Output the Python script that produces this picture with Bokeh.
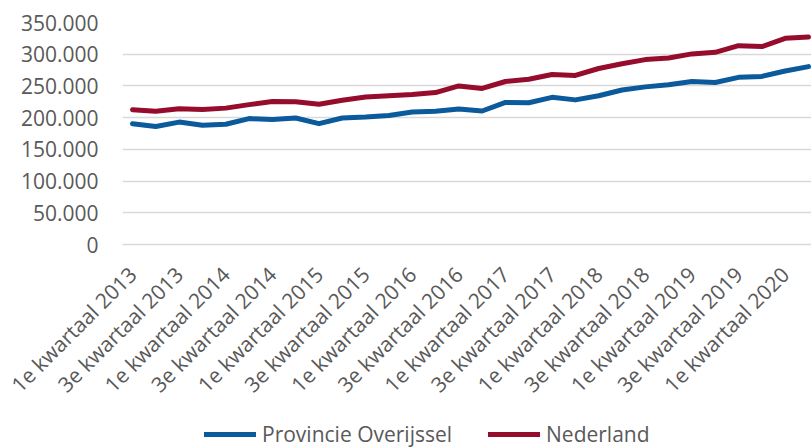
import math
from bokeh.plotting import figure
from bokeh.layouts import column
from bokeh.models import Range1d, FixedTicker, Legend, LegendItem
from bokeh.embed import file_html
from bokeh.resources import INLINE

quarters = [
    "1e kwartaal 2013", "2e kwartaal 2013", "3e kwartaal 2013", "4e kwartaal 2013",
    "1e kwartaal 2014", "2e kwartaal 2014", "3e kwartaal 2014", "4e kwartaal 2014",
    "1e kwartaal 2015", "2e kwartaal 2015", "3e kwartaal 2015", "4e kwartaal 2015",
    "1e kwartaal 2016", "2e kwartaal 2016", "3e kwartaal 2016", "4e kwartaal 2016",
    "1e kwartaal 2017", "2e kwartaal 2017", "3e kwartaal 2017", "4e kwartaal 2017",
    "1e kwartaal 2018", "2e kwartaal 2018", "3e kwartaal 2018", "4e kwartaal 2018",
    "1e kwartaal 2019", "2e kwartaal 2019", "3e kwartaal 2019", "4e kwartaal 2019",
    "1e kwartaal 2020", "2e kwartaal 2020",
]
overijssel = [190500, 186000, 193000, 188000, 189500, 198500, 197000, 199500,
              190500, 199500, 201000, 203500, 209000, 210000, 213500, 210500,
              224000, 223500, 232000, 228000, 234500, 243500, 248500, 252000,
              257000, 255500, 263500, 265000, 273500, 280500]
nederland = [212500, 210000, 214000, 213000, 215000, 220500, 225500, 225000,
             221000, 227500, 232500, 234500, 236500, 239500, 250000, 246000,
             257000, 260500, 268000, 266500, 277500, 285000, 291500, 294000,
             300500, 303000, 313500, 312000, 325000, 327000]
series_names = ["Provincie Overijssel", "Nederland"]
y_ticks = [0, 50000, 100000, 150000, 200000, 250000, 300000, 350000]
y_labels = ["0", "50.000", "100.000", "150.000", "200.000", "250.000", "300.000", "350.000"]

FONT = "Open Sans"
TXT = "#595959"
GRID = "#d9d9d9"
BLUE = "#0A5A9C"
RED = "#960C2C"

xs = list(range(len(quarters)))

p = figure(width=811, height=410, output_backend="svg", toolbar_location=None,
           x_range=Range1d(-0.43, 29.13), y_range=Range1d(0, 350000),
           min_border_left=122, min_border_right=0, min_border_top=22,
           min_border_bottom=166)
p.outline_line_color = None

p.line(xs, overijssel, line_color=BLUE, line_width=5,
       line_cap="round", line_join="round")
p.line(xs, nederland, line_color=RED, line_width=5,
       line_cap="round", line_join="round")

# y axis
p.yaxis.ticker = FixedTicker(ticks=y_ticks)
p.yaxis.major_label_overrides = {t: l for t, l in zip(y_ticks, y_labels)}
p.yaxis.axis_line_color = None
p.yaxis.major_tick_line_color = None
p.yaxis.minor_tick_line_color = None
p.yaxis.major_tick_out = 0
p.yaxis.major_tick_in = 0
p.yaxis.major_label_standoff = 24
p.yaxis.major_label_text_font = FONT
p.yaxis.major_label_text_font_size = "21px"
p.yaxis.major_label_text_color = TXT

p.ygrid.ticker = FixedTicker(ticks=y_ticks)
p.ygrid.grid_line_color = GRID
p.ygrid.grid_line_width = 1.5
p.xgrid.grid_line_color = None

# x axis
x_ticks = xs[::2]
p.xaxis.ticker = FixedTicker(ticks=x_ticks)
p.xaxis.major_label_overrides = {i: quarters[i] for i in x_ticks}
p.xaxis.major_label_orientation = math.pi / 4
p.xaxis.axis_line_color = GRID
p.xaxis.axis_line_width = 1.5
p.xaxis.major_tick_line_color = None
p.xaxis.minor_tick_line_color = None
p.xaxis.major_tick_out = 0
p.xaxis.major_tick_in = 0
p.xaxis.major_label_standoff = 26
p.xaxis.major_label_text_font = FONT
p.xaxis.major_label_text_font_size = "21px"
p.xaxis.major_label_text_color = TXT

# legend strip (its series lie outside this strip's range; only the legend shows)
pl = figure(width=811, height=38, output_backend="svg", toolbar_location=None,
            x_range=Range1d(-0.43, 29.13), y_range=Range1d(0, 1), min_border=0)
pl.outline_line_color = None
pl.axis.visible = False
pl.grid.visible = False
l1 = pl.line(xs, overijssel, line_color=BLUE, line_width=5, line_cap="round")
l2 = pl.line(xs, nederland, line_color=RED, line_width=5, line_cap="round")
legend = Legend(items=[LegendItem(label=series_names[0], renderers=[l1]),
                       LegendItem(label=series_names[1], renderers=[l2])],
                orientation="horizontal", location=(82, 0),
                glyph_width=52, glyph_height=20, label_standoff=6, spacing=36,
                padding=0, margin=0, border_line_color=None,
                background_fill_alpha=0,
                label_text_font=FONT, label_text_font_size="21px",
                label_text_color=TXT)
pl.add_layout(legend, "center")

layout = column(p, pl, spacing=0)
open("out.html", "w").write(file_html(layout, INLINE))
